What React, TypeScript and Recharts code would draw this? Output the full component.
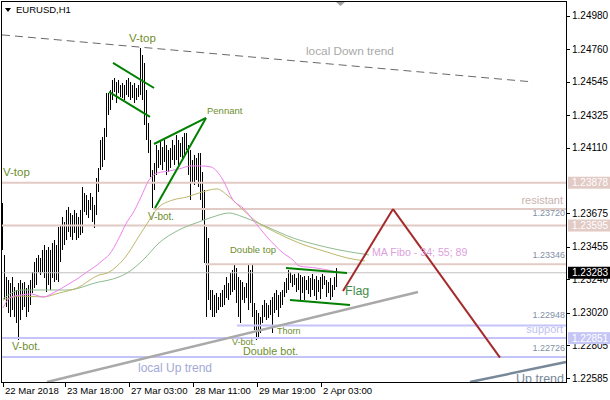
import React from 'react';
import { ComposedChart, Bar, Line, XAxis, YAxis, ReferenceLine, ReferenceDot } from 'recharts';

const FONT = '"Liberation Sans", Arial, sans-serif';
const W = 610;
const H = 400;
const PLOT_RIGHT = 566;
const PLOT_BOTTOM = 382;

// ---- EURUSD H1 bars (high / low), one per hour ----
const highs = [
  1.23744, 1.23401, 1.23255, 1.23235, 1.23215, 1.23255, 1.23189, 1.23169, 1.23215, 1.23235,
  1.23215, 1.23222, 1.23182, 1.23202, 1.23235, 1.23288, 1.23354, 1.23381, 1.23401, 1.23381,
  1.23434, 1.23467, 1.23434, 1.23454, 1.23434, 1.23480, 1.23500, 1.23467, 1.23586, 1.23599,
  1.23652, 1.23619, 1.23698, 1.23718, 1.23678, 1.23665, 1.23698, 1.23678, 1.23652, 1.23698,
  1.23850, 1.23810, 1.23797, 1.23764, 1.23810, 1.23784, 1.23731, 1.23909, 1.23975, 1.24161,
  1.24181, 1.24240, 1.24471, 1.24471, 1.24491, 1.24557, 1.24570, 1.24544, 1.24557, 1.24524,
  1.24537, 1.24524, 1.24557, 1.24570, 1.24544, 1.24524, 1.24537, 1.24504, 1.24524, 1.24769,
  1.24723, 1.24669, 1.24491, 1.24273, 1.24161, 1.23962, 1.24008, 1.24128, 1.24095, 1.24161,
  1.24114, 1.24161, 1.24128, 1.24095, 1.24108, 1.24161, 1.24128, 1.24194, 1.24161, 1.24141,
  1.24181, 1.24207, 1.24207, 1.24128, 1.24095, 1.24028, 1.24062, 1.24042, 1.24075, 1.24075,
  1.23949, 1.23830, 1.23586, 1.23513, 1.23169, 1.23169, 1.23136, 1.23149, 1.23123, 1.23149,
  1.23169, 1.23202, 1.23255, 1.23215, 1.23281, 1.23301, 1.23334, 1.23314, 1.23255, 1.23235,
  1.23222, 1.23189, 1.23215, 1.23334, 1.23301, 1.23334, 1.23083, 1.23037, 1.23017, 1.22991,
  1.23070, 1.23103, 1.23083, 1.23070, 1.23103, 1.23123, 1.23149, 1.23169, 1.23136, 1.23156,
  1.23169, 1.23222, 1.23248, 1.23301, 1.23288, 1.23268, 1.23275, 1.23248, 1.23281, 1.23268,
  1.23255, 1.23261, 1.23235, 1.23261, 1.23248, 1.23275, 1.23242, 1.23261, 1.23235, 1.23255,
  1.23275, 1.23261, 1.23235, 1.23222, 1.23248, 1.23202, 1.23255, 1.23314,
];
const lows = [
  1.23434, 1.23103, 1.23057, 1.23017, 1.22991, 1.23037, 1.22991, 1.22951, 1.22839, 1.22971,
  1.23037, 1.23057, 1.22991, 1.23024, 1.23070, 1.23149, 1.23182, 1.23202, 1.23288, 1.23268,
  1.23288, 1.23248, 1.23156, 1.23202, 1.23169, 1.23248, 1.23222, 1.23235, 1.23222, 1.23354,
  1.23434, 1.23467, 1.23500, 1.23553, 1.23520, 1.23500, 1.23546, 1.23500, 1.23513, 1.23533,
  1.23546, 1.23685, 1.23665, 1.23645, 1.23698, 1.23619, 1.23579, 1.23665, 1.23817, 1.23962,
  1.23982, 1.24028, 1.24181, 1.24326, 1.24359, 1.24425, 1.24478, 1.24405, 1.24471, 1.24445,
  1.24438, 1.24425, 1.24458, 1.24445, 1.24425, 1.24438, 1.24405, 1.24425, 1.24445, 1.24458,
  1.24425, 1.24260, 1.24161, 1.24075, 1.23916, 1.23711, 1.23830, 1.23929, 1.23975, 1.23995,
  1.23962, 1.24015, 1.23929, 1.23949, 1.23975, 1.24028, 1.23995, 1.24028, 1.23995, 1.24049,
  1.24028, 1.24062, 1.24095, 1.23929, 1.23764, 1.23876, 1.23863, 1.23896, 1.23850, 1.23764,
  1.23632, 1.23347, 1.22991, 1.23103, 1.23037, 1.22991, 1.22991, 1.23017, 1.23037, 1.23057,
  1.23057, 1.23070, 1.23116, 1.23103, 1.23136, 1.23156, 1.23169, 1.23083, 1.22991, 1.22951,
  1.23103, 1.23083, 1.23116, 1.23037, 1.23083, 1.22991, 1.22905, 1.22839, 1.22852, 1.22885,
  1.22951, 1.22991, 1.22971, 1.22984, 1.23004, 1.22885, 1.23017, 1.23037, 1.22991, 1.23050,
  1.23070, 1.23123, 1.23149, 1.23169, 1.23215, 1.23189, 1.23202, 1.23156, 1.23169, 1.23103,
  1.23149, 1.23103, 1.23169, 1.23143, 1.23123, 1.23169, 1.23129, 1.23103, 1.23156, 1.23110,
  1.23176, 1.23202, 1.23123, 1.23149, 1.23103, 1.23123, 1.23169, 1.23189,
];

// ---- Moving averages (MA Fibo 34 / 55 / 89), read at sample bars ----
const ma34Idx = [0, 4, 9, 14, 20, 26, 32, 37, 42, 47, 50, 53, 58, 62, 65, 69, 73, 77, 83, 88, 94, 99, 104, 110, 115, 120, 125, 132, 140, 145, 148, 157, 167];
const ma34 = [1.23050, 1.23123, 1.23136, 1.23143, 1.23123, 1.23156, 1.23202, 1.23242, 1.23288, 1.23334, 1.23367, 1.23401, 1.23513, 1.23619, 1.23678, 1.23784, 1.23896, 1.23942, 1.23955, 1.23969, 1.23989, 1.23989, 1.23982, 1.23896, 1.23764, 1.23711, 1.23632, 1.23520, 1.23414, 1.23367, 1.23328, 1.23314, 1.23288];
const ma55Idx = [0, 9, 20, 28, 37, 48, 52, 60, 70, 78, 85, 92, 98, 107, 112, 120, 127, 137, 148, 162, 172, 181];
const ma55 = [1.23103, 1.23129, 1.23123, 1.23149, 1.23182, 1.23268, 1.23281, 1.23367, 1.23566, 1.23718, 1.23764, 1.23784, 1.23810, 1.23837, 1.23797, 1.23698, 1.23619, 1.23546, 1.23480, 1.23420, 1.23381, 1.23361];
const ma89Idx = [0, 9, 32, 48, 53, 62, 70, 78, 88, 98, 105, 113, 120, 132, 145, 157, 168, 180, 183];
const ma89 = [1.23110, 1.23169, 1.23169, 1.23222, 1.23235, 1.23281, 1.23367, 1.23480, 1.23566, 1.23619, 1.23652, 1.23678, 1.23652, 1.23586, 1.23513, 1.23467, 1.23434, 1.23407, 1.23401];

// ---- axes ----
const timeTickIdx = [0, 31, 63, 95, 127, 159];
const timeTickLabels = ['22 Mar 2018', '23 Mar 18:00', '27 Mar 03:00', '28 Mar 11:00', '29 Mar 19:00', '2 Apr 03:00'];
const priceTicks = [1.2498, 1.2476, 1.24545, 1.24325, 1.2411, 1.23675, 1.23455, 1.2324, 1.2302, 1.22805, 1.22585];
const levelTags = [1.23878, 1.23595, 1.23283, 1.22851];
const levelTagColors = ['#E2CAC5', '#E2CAC5', '#000000', '#C6C6F6'];

// ---- horizontal levels ----
const fullLevels = [1.23878, 1.23595, 1.23283, 1.22851, 1.22726];
const fullLevelKinds = ['res', 'res', 'bid', 'sup', 'sup'];
const partLevels = [1.23705, 1.2334, 1.22935];
const partLevelFrom = [75, 101, 117];
const partLevelKinds = ['res', 'res', 'sup'];

// ---- trend / pattern lines: [fromBar, fromPrice, toBar, toPrice] ----
const trendLines = [
  [-0.5, 1.24855, 265, 1.24544],
  [22, 1.22561, 207.5, 1.23156],
  [233.5, 1.22561, 281.5, 1.22693],
  [55, 1.2467, 75.5, 1.24504],
  [53, 1.24478, 73.5, 1.24313],
  [75.5, 1.24134, 101.5, 1.24306],
  [76, 1.23711, 101.5, 1.24306],
  [141.5, 1.23315, 172, 1.23281],
  [143.5, 1.23103, 173.5, 1.2307],
  [170, 1.23162, 195, 1.23704],
  [195, 1.23704, 248.5, 1.22722],
];
const trendKinds = ['down', 'up', 'up2', 'pat', 'pat', 'pat', 'pat', 'pat', 'pat', 'fc', 'fc'];

// ---- text annotations ----
const noteTexts = ['V-top', 'Pennant', 'V-top', 'V-bot.', 'Double top', 'MA Fibo - 34; 55; 89', 'resistant', '1.23720', '1.23346', 'Flag', '1.22948', 'support', '1.22726', 'Thorn', 'V-bot.', 'Double bot.', 'V-bot.', 'local Down trend', 'local Up trend', 'Up trend'];
const noteIdx = [63, 102, 0, 72.5, 113.5, 184.5, 280, 281, 281, 171, 281, 280, 281, 137, 114.5, 120, 4.5, 151.5, 67.5, 280.5];
const notePrices = [1.24835, 1.24352, 1.23949, 1.23652, 1.23434, 1.2342, 1.23764, 1.23678, 1.23401, 1.23162, 1.23004, 1.22911, 1.22786, 1.22901, 1.22829, 1.22766, 1.22796, 1.24749, 1.22654, 1.22581];

const PAT = '#6E8E2E';
const NOTE_STYLES = [
  { size: 11.5, color: PAT, anchor: 'start' },
  { size: 9.5, color: PAT, anchor: 'start' },
  { size: 11.5, color: PAT, anchor: 'start' },
  { size: 10, color: PAT, anchor: 'start' },
  { size: 9.5, color: PAT, anchor: 'start' },
  { size: 10.6, color: '#DDA0DD', anchor: 'start' },
  { size: 11, color: '#C9B3AE', anchor: 'end' },
  { size: 9, color: '#7F8FA6', anchor: 'end' },
  { size: 9, color: '#7F8FA6', anchor: 'end' },
  { size: 12.5, color: '#3F8C4A', anchor: 'start' },
  { size: 9, color: '#7F8FA6', anchor: 'end' },
  { size: 11, color: '#BFBFF2', anchor: 'end' },
  { size: 9, color: '#7F8FA6', anchor: 'end' },
  { size: 9, color: PAT, anchor: 'start' },
  { size: 9, color: PAT, anchor: 'start' },
  { size: 10.8, color: PAT, anchor: 'start' },
  { size: 10.8, color: PAT, anchor: 'start' },
  { size: 11.8, color: '#A9A9A9', anchor: 'start' },
  { size: 12, color: '#A3A9D6', anchor: 'start' },
  { size: 12.5, color: '#778899', anchor: 'end', clip: true },
];

const LEVEL_STYLE: any = {
  res: { stroke: '#E2CAC5', width: 2 },
  sup: { stroke: '#C4C4F8', width: 2 },
  bid: { stroke: '#C0C0C0', width: 1 },
};
const TREND_STYLE: any = {
  down: { stroke: '#696969', width: 1, dash: '8 5' },
  up: { stroke: '#A9A9A9', width: 2.5 },
  up2: { stroke: '#778899', width: 2.5 },
  pat: { stroke: '#008000', width: 2 },
  fc: { stroke: '#A52A2A', width: 2 },
};

const bars = highs.map((h, i) => ({ i, range: [lows[i], h] }));
const mkSeries = (idx: number[], vals: number[]) => idx.map((i, k) => ({ i, v: vals[k] }));
const ma34Data = mkSeries(ma34Idx, ma34);
const ma55Data = mkSeries(ma55Idx, ma55);
const ma89Data = mkSeries(ma89Idx, ma89);

const BarShape = (props: any) => {
  const { x, y, width, height } = props;
  if (x == null || y == null || isNaN(x) || isNaN(y)) return null;
  const cx = Math.floor(x + width / 2);
  const y0 = Math.min(y, y + height);
  const y1 = Math.max(y, y + height);
  const top = Math.round(y0);
  const h = Math.max(1, Math.round(y1) - top);
  return <rect x={cx} y={top} width={1} height={h} fill="#000" />;
};

const PriceTick = (props: any) => {
  const { y, payload } = props;
  const v = payload.value;
  const tag = levelTags.indexOf(v);
  const label = Number(v).toFixed(5);
  if (tag >= 0) {
    return (
      <g>
        <rect x={568} y={y - 6} width={42} height={12} fill={levelTagColors[tag]} />
        <text x={572} y={y} dy="0.35em" fontSize={10} fill="#fff" fontFamily={FONT}>{label}</text>
      </g>
    );
  }
  const yy = Math.round(y) + 0.5;
  return (
    <g>
      <line x1={PLOT_RIGHT} x2={PLOT_RIGHT + 4} y1={yy} y2={yy} stroke="#000" />
      <text x={572} y={y} dy="0.35em" fontSize={10} fill="#000" fontFamily={FONT}>{label}</text>
    </g>
  );
};

const TimeTick = (props: any) => {
  const { x, payload } = props;
  const k = timeTickIdx.indexOf(payload.value);
  const xx = Math.floor(x) + 0.5;
  return (
    <g>
      <line x1={xx} x2={xx} y1={PLOT_BOTTOM} y2={PLOT_BOTTOM + 5} stroke="#000" />
      <text x={x + 2} y={391} dy="0.35em" fontSize={9.6} fill="#000" fontFamily={FONT}>{timeTickLabels[k]}</text>
    </g>
  );
};

const renderNote = (p: any, k: number) => {
  const s: any = NOTE_STYLES[k];
  const el = (
    <text x={p.cx} y={p.cy} dy="0.35em" fontSize={s.size} fill={s.color} textAnchor={s.anchor} fontFamily={FONT}>
      {noteTexts[k]}
    </text>
  );
  if (s.clip) {
    return (
      <svg x={0} y={0} width={PLOT_RIGHT} height={PLOT_BOTTOM} overflow="hidden">
        {el}
      </svg>
    );
  }
  return el;
};

export default function App() {
  return (
    <div style={{ position: 'fixed', left: 0, top: 0, width: W, height: H, background: '#fff' }}>
      <ComposedChart width={W} height={H} data={bars} margin={{ top: 1, right: 0, bottom: 0, left: 1 }}>
        <XAxis
          type="number"
          dataKey="i"
          domain={[-1, 281.5]}
          allowDataOverflow
          ticks={timeTickIdx}
          interval={0}
          tick={(p: any) => <TimeTick {...p} />}
          tickLine={false}
          axisLine={false}
          height={18}
        />
        <YAxis
          orientation="right"
          type="number"
          domain={[1.22561, 1.25079]}
          allowDataOverflow
          ticks={[...priceTicks, ...levelTags]}
          interval={0}
          tick={(p: any) => <PriceTick {...p} />}
          tickLine={false}
          axisLine={false}
          width={44}
        />
        {fullLevels.map((v, k) => (
          <ReferenceLine key={'fl' + k} y={v} stroke={LEVEL_STYLE[fullLevelKinds[k]].stroke} strokeWidth={LEVEL_STYLE[fullLevelKinds[k]].width} />
        ))}
        {partLevels.map((v, k) => (
          <ReferenceLine
            key={'pl' + k}
            segment={[{ x: partLevelFrom[k], y: v }, { x: 281.5, y: v }]}
            stroke={LEVEL_STYLE[partLevelKinds[k]].stroke}
            strokeWidth={LEVEL_STYLE[partLevelKinds[k]].width}
            ifOverflow="visible"
          />
        ))}
        <Line data={ma89Data} dataKey="v" type="monotone" stroke="#8FBC8F" strokeWidth={1} dot={false} isAnimationActive={false} />
        <Line data={ma55Data} dataKey="v" type="monotone" stroke="#BDB76B" strokeWidth={1} dot={false} isAnimationActive={false} />
        <Line data={ma34Data} dataKey="v" type="monotone" stroke="#EE82EE" strokeWidth={1} dot={false} isAnimationActive={false} />
        <Bar dataKey="range" barSize={1} isAnimationActive={false} shape={(p: any) => <BarShape {...p} />} />
        {trendLines.map((t, k) => {
          const st = TREND_STYLE[trendKinds[k]];
          return (
            <ReferenceLine
              key={'tl' + k}
              segment={[{ x: t[0], y: t[1] }, { x: t[2], y: t[3] }]}
              stroke={st.stroke}
              strokeWidth={st.width}
              strokeDasharray={st.dash}
              ifOverflow="visible"
            />
          );
        })}
        {noteTexts.map((t, k) => (
          <ReferenceDot
            key={'n' + k}
            x={noteIdx[k]}
            y={notePrices[k]}
            r={0}
            ifOverflow="visible"
            shape={(p: any) => renderNote(p, k)}
          />
        ))}
      </ComposedChart>
      <svg width={W} height={H} style={{ position: 'absolute', left: 0, top: 0, pointerEvents: 'none' }}>
        <rect x={1.5} y={1.5} width={565} height={381} fill="none" stroke="#000" />
        <polygon points="5,8 11,8 8,12" fill="#000" />
        <text x={16} y={10} dy="0.35em" fontSize={9.5} fill="#000" fontFamily={FONT}>EURUSD,H1</text>
        <polygon points="336,2 345,2 340.5,6" fill="#A0A0A0" />
      </svg>
    </div>
  );
}
